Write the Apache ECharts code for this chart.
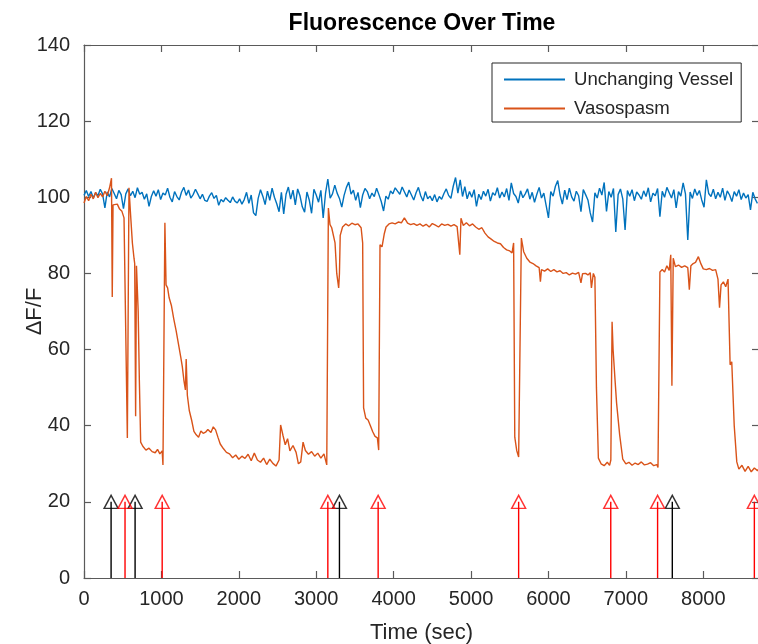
<!DOCTYPE html>
<html>
<head>
<meta charset="utf-8">
<script src="https://cdn.jsdelivr.net/npm/echarts@6/dist/echarts.min.js"></script>
<style>
html,body{margin:0;padding:0;background:#fff;}
#chart{width:758px;height:644px;}
</style>
</head>
<body>
<div id="chart"></div>
<script>
// ---- Data ----
const titleText = 'Fluorescence Over Time';
const xLabel = 'Time (sec)';
const yLabel = '\u0394F/F';
const seriesNames = ['Unchanging Vessel', 'Vasospasm'];
const xTicks = [0, 1000, 2000, 3000, 4000, 5000, 6000, 7000, 8000];
const yTicks = [0, 20, 40, 60, 80, 100, 120, 140];

// Unchanging vessel: sampled every 30 s from 0 s
const vesselStep = 30;
const vesselValues = [
  100.5,101.8,100.2,101.5,99.8,101.2,100.4,102.1,100.9,97.2,
  101.4,100.1,102.3,101.0,99.6,101.8,100.7,97.0,100.9,102.2,
  100.4,101.6,99.9,102.5,100.8,101.3,99.5,100.9,97.6,100.2,
  101.7,100.3,102.0,99.4,101.1,100.6,102.4,100.0,98.8,101.5,
  100.2,99.3,101.4,102.6,100.5,101.9,99.8,100.7,102.1,100.9,
  99.6,100.8,99.2,98.9,100.3,101.2,99.7,100.5,97.9,99.4,
  98.8,99.9,99.2,98.6,100.1,99.0,98.5,99.6,98.2,99.4,
  101.3,98.4,100.6,95.9,95.2,99.7,102.0,100.3,98.1,101.6,
  99.2,102.4,100.0,98.3,96.2,101.3,95.6,100.8,102.7,99.5,
  101.9,98.0,102.2,100.4,97.5,96.1,101.4,99.3,95.8,102.1,
  100.6,98.7,101.8,94.6,101.0,104.8,99.8,100.9,103.2,101.1,
  99.7,97.4,100.5,102.6,104.0,100.8,101.9,99.2,101.3,97.3,
  100.6,102.3,101.5,99.6,101.1,100.2,102.4,100.7,98.9,96.4,
  100.3,99.5,101.7,100.9,102.5,101.6,100.8,102.7,101.4,100.1,
  101.9,100.6,99.3,101.2,102.6,100.4,99.0,101.5,99.6,100.3,
  99.1,100.7,98.8,100.2,99.5,101.0,102.2,100.5,99.7,102.9,
  105.2,101.1,104.6,100.2,102.8,99.6,101.5,100.0,102.0,97.6,
  100.8,99.4,101.6,100.3,102.1,99.0,101.2,100.5,102.5,99.8,
  101.4,100.1,102.3,99.2,103.8,101.0,100.2,98.5,101.7,99.9,
  100.9,102.2,99.5,101.3,98.7,100.8,102.6,99.8,101.1,97.9,
  94.6,101.5,100.3,102.9,104.4,100.6,98.2,101.9,99.4,102.4,
  100.1,99.0,101.6,100.4,96.2,102.0,100.7,99.3,95.9,93.5,
  101.2,99.8,102.4,100.6,103.9,96.3,101.5,100.0,102.3,90.9,
  100.7,102.2,99.6,91.4,101.8,100.3,102.0,99.1,101.4,100.6,
  99.5,101.7,100.2,102.5,98.8,101.1,100.4,102.3,94.9,101.6,
  100.0,102.6,101.2,99.8,102.0,97.2,101.5,100.3,103.8,100.9,
  88.8,101.4,99.7,102.2,100.5,101.8,99.3,97.4,104.6,101.0,
  100.2,102.1,99.6,101.3,100.0,102.4,99.2,101.7,100.6,98.9,
  101.5,100.3,102.0,99.4,101.1,99.8,100.7,96.7,101.3,99.6,
  98.4
];

// Vasospasm: irregular sample times (s) and values
const spasmTimes = [
  0,30,60,90,120,150,180,210,240,270,300,330,355,365,375,400,430,460,490,517,
  560,581,600,625,646,655,667,678,689,700,715,732,760,800,840,880,920,950,980,1010,
  1020,1045,1060,1080,1100,1130,1160,1190,1220,1250,1270,1290,1310,1320,1335,1360,1390,1420,1450,1480,
  1510,1540,1570,1600,1640,1670,1700,1730,1760,1800,1840,1880,1920,1960,2000,2040,2080,2120,2160,2200,
  2240,2280,2320,2360,2400,2440,2480,2520,2540,2570,2600,2630,2660,2700,2740,2770,2800,2830,2860,2900,
  2940,2980,3020,3060,3100,3136,3157,3178,3200,3221,3243,3265,3290,3300,3310,3340,3380,3420,3460,3500,
  3540,3580,3600,3612,3640,3670,3700,3730,3760,3790,3807,3824,3850,3880,3902,3940,3980,4020,4060,4100,
  4139,4180,4220,4260,4300,4340,4380,4420,4460,4500,4540,4580,4620,4660,4700,4740,4780,4820,4855,4870,
  4900,4940,4980,5020,5060,5100,5140,5180,5220,5260,5300,5340,5380,5420,5460,5500,5530,5550,5565,5590,
  5615,5650,5680,5720,5760,5800,5840,5880,5896,5910,5950,5990,6030,6070,6110,6150,6190,6230,6270,6310,
  6350,6390,6420,6440,6480,6510,6540,6555,6580,6600,6620,6645,6680,6720,6760,6790,6806,6822,6835,6856,
  6880,6920,6960,7000,7040,7080,7120,7160,7200,7240,7280,7320,7360,7400,7415,7440,7470,7500,7530,7560,
  7580,7595,7612,7640,7680,7720,7760,7800,7820,7840,7870,7900,7937,7970,8000,8040,8080,8120,8160,8190,
  8210,8230,8260,8290,8320,8347,8368,8400,8433,8460,8500,8540,8580,8620,8660,8700,8720
];
const spasmValues = [
  98.5,100.2,99.1,100.8,99.6,101.3,99.9,101.0,100.1,101.6,100.4,102.5,105.0,73.8,98.0,97.8,98.2,96.9,96.3,94.6,
  36.8,102.5,96.0,88.0,84.0,82.6,42.5,82.0,81.5,70.0,52.0,35.7,34.6,33.6,34.1,33.2,32.9,33.8,32.6,33.4,
  29.7,93.3,77.0,76.2,73.6,71.5,68.0,65.0,61.5,58.0,55.5,52.0,49.4,57.5,48.0,44.0,41.5,38.5,37.6,37.0,
  38.6,38.0,38.3,39.0,38.2,39.7,38.9,37.0,35.2,34.0,33.0,32.6,31.6,32.3,31.2,32.0,31.4,32.5,30.8,32.8,
  31.0,30.4,31.5,29.8,31.2,30.1,29.4,31.0,40.2,37.5,35.0,36.6,33.4,34.8,33.0,30.0,30.5,35.7,33.5,32.5,
  33.2,32.0,32.8,31.5,32.6,29.7,97.2,92.8,92.0,92.5,88.0,80.0,76.2,80.0,90.0,92.2,93.0,92.5,93.2,92.8,
  93.0,92.0,88.0,44.7,42.0,41.5,40.0,38.4,37.2,36.8,33.6,87.5,87.0,90.5,92.2,93.0,93.3,93.0,93.5,93.3,
  94.6,93.2,92.8,93.1,92.6,93.0,92.4,92.9,92.2,93.1,92.7,92.2,93.0,92.6,92.9,92.4,92.8,92.3,84.9,94.5,
  92.6,93.3,92.5,93.0,92.2,91.6,92.0,90.6,89.6,89.0,88.4,88.0,87.8,86.8,86.2,85.9,85.4,88.0,37.0,33.5,
  31.8,89.3,85.7,84.0,83.0,82.6,82.0,81.5,77.8,81.0,80.6,81.2,80.5,81.0,80.4,80.7,80.0,80.2,79.6,80.1,
  79.8,80.3,77.5,79.9,80.0,79.6,80.2,76.2,80.0,79.0,50.0,31.5,30.0,29.5,30.4,29.6,31.0,67.3,60.0,53.3,
  46.0,37.6,31.2,30.0,30.4,29.6,30.2,29.8,30.5,29.7,29.9,30.3,29.5,29.8,29.0,80.4,81.0,80.4,82.0,80.8,
  84.9,50.5,84.0,81.8,82.2,81.6,82.0,81.5,75.7,82.0,82.6,82.9,84.4,82.5,81.2,81.0,81.3,80.8,81.0,78.5,
  71.0,77.0,77.8,76.5,78.5,56.0,56.8,40.0,30.5,28.6,29.6,28.0,29.3,27.9,28.9,28.2,28.6
];

// Event arrows (s)
const blackEvents = [350, 660, 3300, 7600];
const redEvents = [530, 1010, 3150, 3800, 5615, 6805, 7410, 8660];
const eventLevel = 20;

// ---- Chart ----
const FONT = "'Liberation Sans', Arial, Helvetica, sans-serif";
const TXT = '#262626';
const AX = '#5a5a5a';
const vesselData = vesselValues.map((v, i) => [i * vesselStep, v]);
const spasmData = spasmTimes.map((t, i) => [t, spasmValues[i]]);
function stems(ev) {
  const out = [];
  ev.forEach(t => { out.push([t, 0]); out.push([t, eventLevel]); out.push('-'); });
  return out;
}
const XMAX = 8720;
const plain = v => String(v);

function axisCommon(extra) {
  return Object.assign({
    axisLine: {show: true, onZero: false, lineStyle: {color: AX, width: 1.2}},
    axisTick: {show: true, inside: true, length: 7, lineStyle: {color: AX, width: 1.2}},
    splitLine: {show: false}
  }, extra);
}

const chart = echarts.init(document.getElementById('chart'), null, {renderer: 'canvas'});
chart.setOption({
  animation: false,
  backgroundColor: '#ffffff',
  title: {
    text: titleText, left: 417, textAlign: 'center', top: 7,
    textStyle: {fontFamily: FONT, fontSize: 23, fontWeight: 'bold', color: '#000'}
  },
  legend: {
    data: seriesNames, orient: 'vertical', left: 492, top: 63,
    padding: [7, 8, 4, 12], itemGap: 10, itemWidth: 61, itemHeight: 2, icon: 'rect',
    borderColor: '#262626', borderWidth: 1, backgroundColor: '#fff',
    textStyle: {fontFamily: FONT, fontSize: 18.6, color: TXT, padding: [0, 0, 0, 4], height: 18, lineHeight: 18}
  },
  grid: {left: 84, top: 45, right: -1, bottom: 66, containLabel: false, outerBoundsMode: 'none'},
  xAxis: [axisCommon({
    type: 'value', min: 0, max: XMAX, interval: 1000, position: 'bottom',
    name: xLabel, nameLocation: 'middle', nameGap: 44, nameMoveOverlap: false,
    nameTextStyle: {fontFamily: FONT, fontSize: 22, color: TXT},
    axisLabel: {fontFamily: FONT, fontSize: 20, color: TXT, margin: 11, showMaxLabel: false, formatter: plain}
  }), axisCommon({
    type: 'value', min: 0, max: XMAX, interval: 1000, position: 'top',
    axisLabel: {show: false}
  })],
  yAxis: [axisCommon({
    type: 'value', min: 0, max: 140, interval: 20, position: 'left',
    name: yLabel, nameLocation: 'middle', nameGap: 38, nameRotate: 90, nameMoveOverlap: false,
    nameTextStyle: {fontFamily: FONT, fontSize: 22, color: TXT},
    axisLabel: {fontFamily: FONT, fontSize: 20, color: TXT, margin: 14, formatter: plain}
  }), axisCommon({
    type: 'value', min: 0, max: 140, interval: 20, position: 'right',
    axisLabel: {show: false}
  })],
  series: [{
    name: seriesNames[0], type: 'line', data: vesselData, symbol: 'none',
    lineStyle: {color: '#0072BD', width: 1.4}, itemStyle: {color: '#0072BD'}, z: 2
  }, {
    name: seriesNames[1], type: 'line', data: spasmData, symbol: 'none',
    lineStyle: {color: '#D95319', width: 1.4}, itemStyle: {color: '#D95319'}, z: 3
  }, {
    name: 'black-stems', type: 'line', data: stems(blackEvents), symbol: 'none', connectNulls: false,
    lineStyle: {color: '#000000', width: 1.4}, z: 4
  }, {
    name: 'red-stems', type: 'line', data: stems(redEvents), symbol: 'none', connectNulls: false,
    lineStyle: {color: '#FF0000', width: 1.4}, z: 4
  }, {
    name: 'black-heads', type: 'scatter', data: blackEvents.map(t => [t, eventLevel]),
    symbol: 'triangle', symbolSize: [14, 13],
    itemStyle: {color: 'rgba(0,0,0,0)', borderColor: '#000000', borderWidth: 1.4}, z: 5
  }, {
    name: 'red-heads', type: 'scatter', data: redEvents.map(t => [t, eventLevel]),
    symbol: 'triangle', symbolSize: [14, 13],
    itemStyle: {color: 'rgba(0,0,0,0)', borderColor: '#FF0000', borderWidth: 1.4}, z: 5
  }]
});
</script>
</body>
</html>
